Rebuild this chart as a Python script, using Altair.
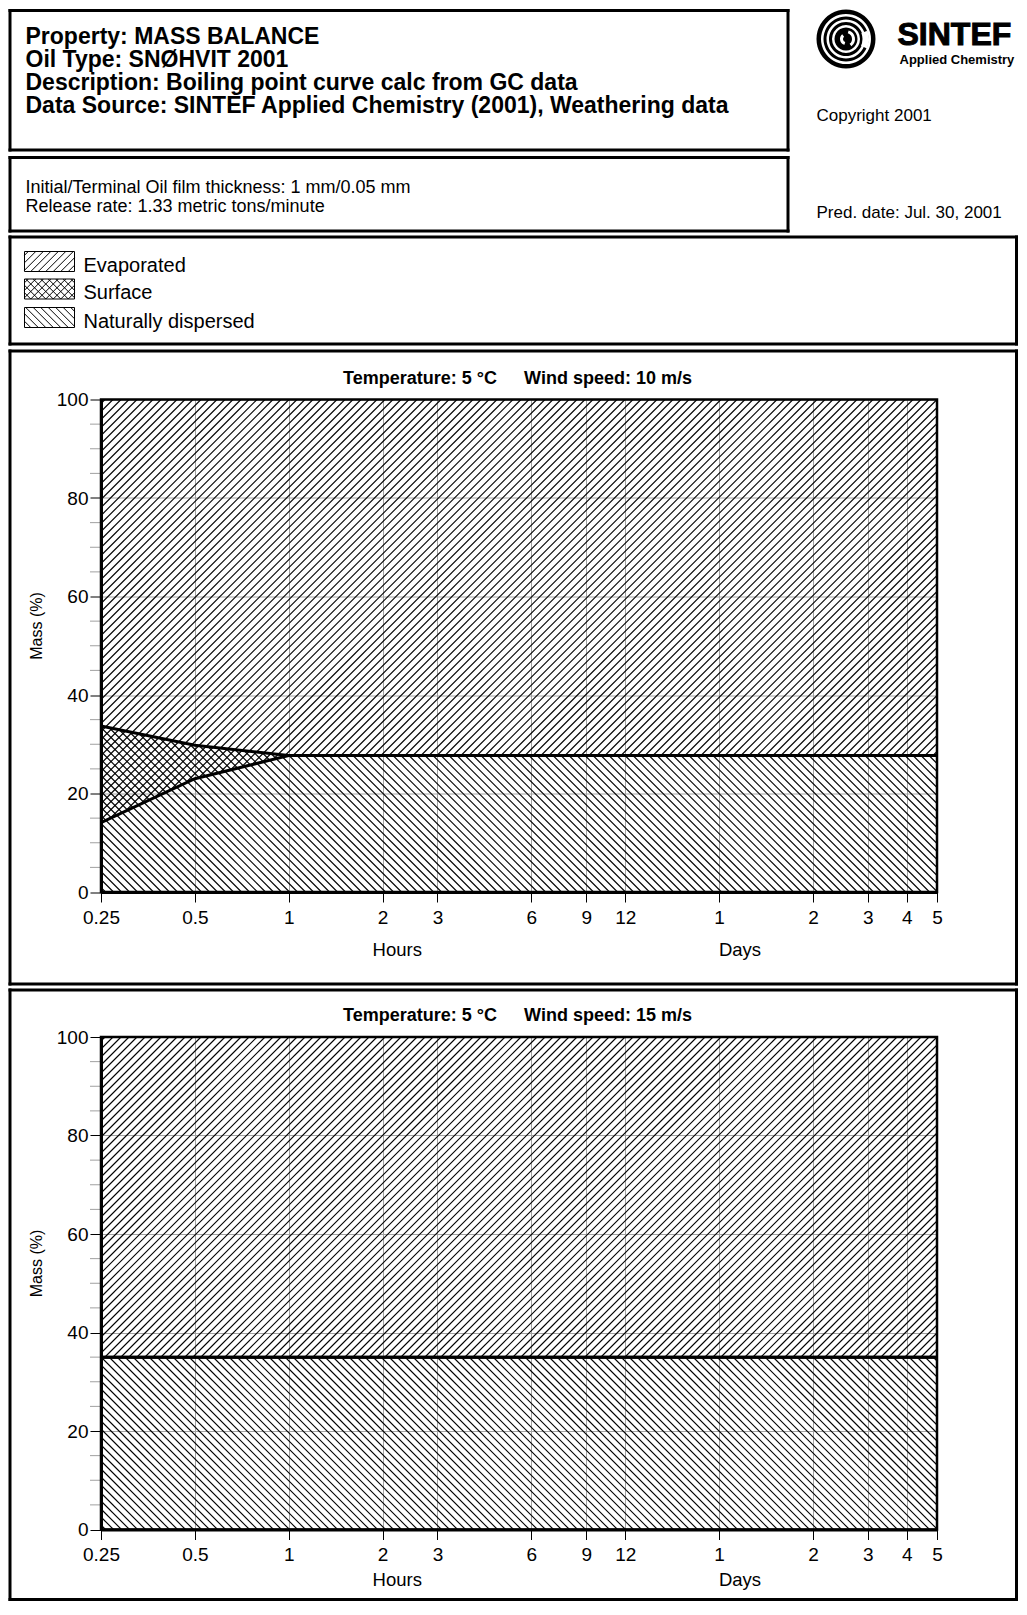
import numpy as np
import pandas as pd
import altair as alt

# ---------------- data ----------------
HOURS = [0.25, 0.5, 1, 2, 3, 6, 9, 12, 24, 48, 72, 96, 120]
TICK_LABELS = ["0.25", "0.5", "1", "2", "3", "6", "9", "12", "1", "2", "3", "4", "5"]
EVAP_10 = [66.3, 70.2, 72.3, 72.3, 72.3, 72.3, 72.3, 72.3, 72.3, 72.3, 72.3, 72.3, 72.3]
DISP_10 = [14.1, 23.0, 27.7, 27.7, 27.7, 27.7, 27.7, 27.7, 27.7, 27.7, 27.7, 27.7, 27.7]
EVAP_15 = [65.0, 65.0, 65.0, 65.0, 65.0, 65.0, 65.0, 65.0, 65.0, 65.0, 65.0, 65.0, 65.0]
DISP_15 = [35.0, 35.0, 35.0, 35.0, 35.0, 35.0, 35.0, 35.0, 35.0, 35.0, 35.0, 35.0, 35.0]
Y_MAJOR = [0, 20, 40, 60, 80, 100]
Y_MINOR = [5, 10, 15, 25, 30, 35, 45, 50, 55, 65, 70, 75, 85, 90, 95]
LEGEND_ITEMS = ["Evaporated", "Surface", "Naturally dispersed"]
HEADER_BOLD = ["Property: MASS BALANCE", "Oil Type: SNØHVIT 2001",
               "Description: Boiling point curve calc from GC data",
               "Data Source: SINTEF Applied Chemistry (2001), Weathering data"]
HEADER_INFO = ["Initial/Terminal Oil film thickness: 1 mm/0.05 mm",
               "Release rate: 1.33 metric tons/minute"]
COPYRIGHT = "Copyright 2001"
PRED_DATE = "Pred. date: Jul. 30, 2001"
PANEL_TITLES = [("Temperature: 5 °C", "Wind speed: 10 m/s"),
                ("Temperature: 5 °C", "Wind speed: 15 m/s")]

FONT = "Liberation Sans"
GRID = "#a0a0a0"

# ---------------- layout (page pixels) ----------------
PX0 = 100.5          # plot left
W = 836.0            # plot width
H = 492.5            # plot height
P1_TOP = 398.0
SPACING = 144.5
P2_TOP = P1_TOP + H + SPACING
HY0 = 8.0
HEADER_H = P1_TOP - SPACING - HY0
RIGHT = 1017.5
HEADER_W = RIGHT - PX0
LEFT = 8.0
BW = 3.0              # box border width
SP = 8.0              # hatch spacing
TWO_PI = 6.2831


def hx(v):
    return v - PX0


def hy(v):
    return v - HY0


def edges(x1, y1, x2, y2, w=BW):
    """four filled border strips of a box (outer edges given)"""
    return [(x1, y1, x2, y1 + w), (x1, y2 - w, x2, y2),
            (x1, y1, x1 + w, y2), (x2 - w, y1, x2, y2)]


# ---------------- hatch helpers ----------------
def hatch(xs, top, bot, height, direction, spacing):
    segs = []
    wid = xs[-1]
    if direction == "f":
        cs = np.arange(spacing / 2, wid + height, spacing)
    else:
        cs = np.arange(-wid + spacing / 2, height, spacing)
    for c in cs:
        py = c - xs if direction == "f" else c + xs
        ins = (py >= top - 1e-9) & (py <= bot + 1e-9) & (py >= 0) & (py <= height)
        if not ins.any():
            continue
        idx = np.flatnonzero(ins)
        br = np.flatnonzero(np.diff(idx) > 1)
        starts = np.r_[idx[0], idx[br + 1]]
        ends = np.r_[idx[br], idx[-1]]
        for s, e in zip(starts, ends):
            if e - s < 2:
                continue
            segs.append((xs[s], py[s], xs[e], py[e]))
    return segs


LOGSPAN = np.log(HOURS[-1] / HOURS[0])
U_PTS = W * np.log(np.array(HOURS) / HOURS[0]) / LOGSPAN

xscale = alt.Scale(type="log", domain=[HOURS[0], HOURS[-1]], nice=False)
yscale = alt.Scale(domain=[0, 100], nice=False, zero=False)

vals_js = "[" + ",".join(str(v) for v in HOURS) + "]"
labs_js = "[" + ",".join("'" + s + "'" for s in TICK_LABELS) + "]"
xaxis = alt.Axis(values=HOURS, labelExpr=f"{labs_js}[indexof({vals_js}, datum.value)]",
                 title=None, grid=True, gridColor=GRID, gridWidth=1,
                 tickSize=10, tickColor="black", tickWidth=1,
                 domainColor="black", domainWidth=3,
                 labelFontSize=19, labelColor="black", labelPadding=6,
                 labelFlush=False, labelOverlap=False)
yaxis = alt.Axis(values=Y_MAJOR, title=None, grid=True, gridColor=GRID, gridWidth=1,
                 tickSize=11, tickColor="black", tickWidth=1,
                 domainColor="black", domainWidth=3,
                 labelFontSize=19, labelColor="black", labelPadding=2,
                 labelFlush=False, labelOverlap=False)


def one(s=""):
    return pd.DataFrame({"t": [s]})


def ptxt(s, x, y, size, bold=False, angle=0, align="center", baseline="alphabetic"):
    kw = dict(fontSize=size, align=align, baseline=baseline, color="black")
    if bold:
        kw["fontWeight"] = "bold"
    if angle:
        kw["angle"] = angle
    return alt.Chart(one(s)).mark_text(**kw).encode(
        x=alt.value(x), y=alt.value(y), text="t:N")


def strip(x1, y1, x2, y2):
    return alt.Chart(one()).mark_rect(color="black").encode(
        x=alt.value(x1), x2=alt.value(x2), y=alt.value(y1), y2=alt.value(y2))


def panel(evap, disp, plot_top, box_top, box_bot, titles, axis_title_dy):
    upper = [100 - e for e in evap]
    xs = np.linspace(0, W, int(W * 4) + 1)
    pyU = H * (1 - np.interp(xs, U_PTS, upper) / 100)
    pyL = H * (1 - np.interp(xs, U_PTS, disp) / 100)
    zero = np.zeros_like(xs)
    full = np.full_like(xs, H)
    segs = (hatch(xs, zero, pyU, H, "f", SP)
            + hatch(xs, pyU, pyL, H, "f", SP)
            + hatch(xs, pyU, pyL, H, "b", SP)
            + hatch(xs, pyL, full, H, "b", SP))
    a = np.array(segs)
    hdf = pd.DataFrame({
        "h1": HOURS[0] * np.exp(a[:, 0] / W * LOGSPAN),
        "p1": 100 * (1 - a[:, 1] / H),
        "h2": HOURS[0] * np.exp(a[:, 2] / W * LOGSPAN),
        "p2": 100 * (1 - a[:, 3] / H),
    })
    hatch_layer = alt.Chart(hdf).mark_rule(color="black", strokeWidth=1.1).encode(
        x=alt.X("h1:Q", scale=xscale, axis=xaxis),
        y=alt.Y("p1:Q", scale=yscale, axis=yaxis),
        x2="h2:Q", y2="p2:Q")

    minor = alt.Chart(pd.DataFrame({"v": Y_MINOR})).mark_rule(color=GRID, strokeWidth=1).encode(
        y=alt.Y("v:Q", scale=yscale, axis=yaxis),
        x=alt.value(-11), x2=alt.value(0))

    ldf = pd.DataFrame({
        "hours": HOURS * 2,
        "value": upper + list(disp),
        "series": ["evaporated boundary"] * len(HOURS) + ["dispersed boundary"] * len(HOURS),
    })
    lines = alt.Chart(ldf).mark_line(color="black", strokeWidth=3).encode(
        x=alt.X("hours:Q", scale=xscale, axis=xaxis),
        y=alt.Y("value:Q", scale=yscale, axis=yaxis),
        detail="series:N")

    frame = alt.Chart(one()).mark_rect(fill="transparent", stroke="black", strokeWidth=2.5).encode(
        x=alt.value(0), x2=alt.value(W), y=alt.value(0), y2=alt.value(H))
    box = [strip(hx(x1), y1 - plot_top, hx(x2), y2 - plot_top)
           for (x1, y1, x2, y2) in edges(LEFT, box_top, RIGHT, box_bot)]

    texts = [
        ptxt(titles[0], 0.3816 * W, -16, 18, bold=True),
        ptxt(titles[1], 0.6065 * W, -16, 18, bold=True),
        ptxt("Mass (%)", -64.5, 226.5, 16, angle=270, baseline="middle"),
        ptxt("Hours", 0.3544 * W, H + axis_title_dy, 18.5),
        ptxt("Days", 0.7643 * W, H + axis_title_dy, 18.5),
    ]
    return alt.layer(hatch_layer, minor, lines, frame, *box, *texts).properties(width=W, height=H)


# ---------------- header ----------------
brows = []
for (bx1, by1, bx2, by2) in [(LEFT, 8.0, 789.0, 150.5), (LEFT, 155.0, 789.0, 231.5),
                             (LEFT, 234.5, RIGHT, 344.5)]:
    for (x1, y1, x2, y2) in edges(bx1, by1, bx2, by2):
        brows.append({"x": hx(x1), "x2": hx(x2), "y": hy(y1), "y2": hy(y2)})
box_layer = alt.Chart(pd.DataFrame(brows)).mark_rect(color="black").encode(
    x=alt.X("x:Q", scale=None), x2="x2:Q", y=alt.Y("y:Q", scale=None), y2="y2:Q")

bold_df = pd.DataFrame({
    "t": HEADER_BOLD,
    "x": [hx(25)] * 4,
    "y": [hy(42.5), hy(66.0), hy(89.0), hy(112.0)],
    "fs": [23] * 4,
})
reg_df = pd.DataFrame({
    "t": HEADER_INFO + [COPYRIGHT, PRED_DATE] + LEGEND_ITEMS,
    "x": [hx(25), hx(25), hx(816), hx(816), hx(83), hx(83), hx(83)],
    "y": [hy(191.5), hy(210.5), hy(119.5), hy(216.5), hy(270.5), hy(298.0), hy(326.5)],
    "fs": [18, 18, 17, 17, 20, 20, 20],
})


def text_layer(df, bold):
    kw = dict(align="left", baseline="alphabetic", color="black")
    if bold:
        kw["fontWeight"] = "bold"
    return alt.Chart(df).mark_text(**kw).encode(
        x=alt.X("x:Q", scale=None), y=alt.Y("y:Q", scale=None), text="t:N",
        size=alt.Size("fs:Q", scale=None, legend=None))


# legend swatches
SW_X0, SW_W, SW_H = 24.0, 50.0, 20.0
sw_tops = [250.5, 278.0, 306.5]
sw_dirs = [["f"], ["f", "b"], ["b"]]
sw_rows = []
sxs = np.linspace(0, SW_W, int(SW_W * 4) + 1)
for top, dirs in zip(sw_tops, sw_dirs):
    for d in dirs:
        for (x1, y1, x2, y2) in hatch(sxs, np.zeros_like(sxs), np.full_like(sxs, SW_H), SW_H, d, 7.5):
            sw_rows.append({"x": hx(SW_X0 + x1), "y": hy(top + y1),
                            "x2": hx(SW_X0 + x2), "y2": hy(top + y2)})
sw_hatch = alt.Chart(pd.DataFrame(sw_rows)).mark_rule(color="black", strokeWidth=1).encode(
    x=alt.X("x:Q", scale=None), x2="x2:Q", y=alt.Y("y:Q", scale=None), y2="y2:Q")
sw_frames = alt.Chart(pd.DataFrame({
    "x": [hx(SW_X0)] * 3, "x2": [hx(SW_X0 + SW_W)] * 3,
    "y": [hy(t) for t in sw_tops], "y2": [hy(t + SW_H) for t in sw_tops],
})).mark_rect(fill="transparent", stroke="black", strokeWidth=1).encode(
    x=alt.X("x:Q", scale=None), x2="x2:Q", y=alt.Y("y:Q", scale=None), y2="y2:Q")

# logo (filled annuli, no strokes)
LCX, LCY = 845.5, 38.0


def ring(r_out, r_in, t1=0.0, t2=TWO_PI, color="black"):
    return alt.Chart(one()).mark_arc(color=color).encode(
        x=alt.value(hx(LCX)), y=alt.value(hy(LCY)),
        theta=alt.value(t1), theta2=alt.value(t2),
        radius=alt.value(r_out), radius2=alt.value(r_in))


logo = [
    ring(29.5, 25.0),
    ring(22.5, 19.5),
    ring(17.0, 14.0),
    ring(11.5, 0.0),
    ring(6.0, 3.0, 3.4, 5.6, "white"),
    ring(9.0, 6.0, 0.3, 2.5, "white"),
    ring(23.0, 16.5, 1.2, 2.0, "white"),
]

sintef = alt.Chart(one("SINTEF")).mark_text(
    align="left", baseline="alphabetic", fontSize=32, fontWeight="bold",
    color="black", stroke="black", strokeWidth=1).encode(
    x=alt.value(hx(897)), y=alt.value(hy(43.5)), text="t:N")
applied = alt.Chart(one("Applied Chemistry")).mark_text(
    align="left", baseline="alphabetic", fontSize=13, fontWeight="bold",
    color="black").encode(
    x=alt.value(hx(899)), y=alt.value(hy(62.5)), text="t:N")

header = alt.layer(
    box_layer, text_layer(bold_df, True), text_layer(reg_df, False),
    sw_hatch, sw_frames, *logo, sintef, applied,
).properties(width=HEADER_W, height=HEADER_H)

p1 = panel(EVAP_10, DISP_10, P1_TOP, 348.0, 984.0, PANEL_TITLES[0], 63.5)
p2 = panel(EVAP_15, DISP_15, P2_TOP, 986.5, 1599.0, PANEL_TITLES[1], 56.0)

chart = alt.vconcat(header, p1, p2, spacing=SPACING, bounds="flush").properties(
    padding=0, background="white"
).configure(font=FONT).configure_view(stroke="transparent")

chart.save("out.html", embed_options={"renderer": "svg", "actions": False})
